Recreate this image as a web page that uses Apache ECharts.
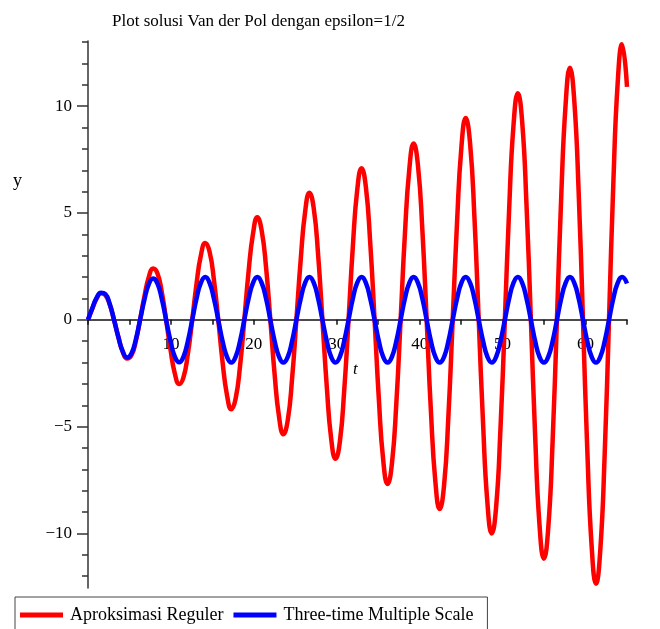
<!DOCTYPE html>
<html>
<head>
<meta charset="utf-8">
<script src="https://cdn.jsdelivr.net/npm/echarts@6/dist/echarts.min.js"></script>
<style>html,body{margin:0;padding:0;background:#fff;}#c{width:660px;height:629px;}</style>
</head>
<body>
<div id="c"></div>
<script>
const tValues = [0.00,0.52,1.05,1.57,2.09,2.62,3.14,3.67,4.19,4.71,5.24,5.76,
6.28,6.81,7.33,7.85,8.38,8.90,9.42,9.95,10.47,11.00,11.52,12.04,
12.57,13.09,13.61,14.14,14.66,15.18,15.71,16.23,16.76,17.28,17.80,18.33,
18.85,19.37,19.90,20.42,20.94,21.47,21.99,22.51,23.04,23.56,24.09,24.61,
25.13,25.66,26.18,26.70,27.23,27.75,28.27,28.80,29.32,29.85,30.37,30.89,
31.42,31.94,32.46,32.99,33.51,34.03,34.56,35.08,35.60,36.13,36.65,37.18,
37.70,38.22,38.75,39.27,39.79,40.32,40.84,41.36,41.89,42.41,42.94,43.46,
43.98,44.51,45.03,45.55,46.08,46.60,47.12,47.65,48.17,48.69,49.22,49.74,
50.27,50.79,51.31,51.84,52.36,52.88,53.41,53.93,54.45,54.98,55.50,56.03,
56.55,57.07,57.60,58.12,58.64,59.17,59.69,60.21,60.74,61.26,61.78,62.31,
62.83,63.35,63.88,64.40,65.00];

const aproksimasiReguler = [0,0.52,1.00,1.24,1.16,0.72,0,-0.82,-1.50,-1.81,-1.66,-1.01,
0,1.11,2.00,2.40,2.17,1.30,0,-1.40,-2.51,-3.00,-2.68,-1.60,
0,1.69,3.01,3.60,3.19,1.89,0,-1.98,-3.52,-4.18,-3.69,-2.18,
0,2.28,4.03,4.80,4.19,2.47,0,-2.57,-4.54,-5.35,-4.70,-2.76,
0,2.86,5.04,5.95,5.20,3.05,0,-3.15,-5.54,-6.50,-5.71,-3.35,
0,3.44,6.05,7.10,6.22,3.64,0,-3.74,-6.56,-7.68,-6.73,-3.93,
0,4.03,7.06,8.25,7.23,4.22,0,-4.32,-7.57,-8.85,-7.74,-4.52,
0,4.61,8.08,9.45,8.24,4.81,0,-4.91,-8.58,-10.00,-8.75,-5.10,
0,5.20,9.09,10.60,9.26,5.39,0,-5.49,-9.60,-11.18,-9.76,-5.68,
0,5.78,10.10,11.80,10.27,5.98,0,-6.07,-10.61,-12.35,-10.77,-6.27,
0,6.37,11.11,12.90,10.90];

const threeTimeMultipleScale = [0,0.55,1.04,1.27,1.21,0.74,0,-0.82,-1.48,-1.76,-1.57,-0.93,
0,0.95,1.67,1.94,1.69,0.98,0,-0.99,-1.72,-1.99,-1.72,-1.00,
0,1.00,1.73,2.00,1.73,1.00,0,-1.00,-1.73,-2.00,-1.73,-1.00,
0,1.00,1.73,2.00,1.73,1.00,0,-1.00,-1.73,-2.00,-1.73,-1.00,
0,1.00,1.73,2.00,1.73,1.00,0,-1.00,-1.73,-2.00,-1.73,-1.00,
0,1.00,1.73,2.00,1.73,1.00,0,-1.00,-1.73,-2.00,-1.73,-1.00,
0,1.00,1.73,2.00,1.73,1.00,0,-1.00,-1.73,-2.00,-1.73,-1.00,
0,1.00,1.73,2.00,1.73,1.00,0,-1.00,-1.73,-2.00,-1.73,-1.00,
0,1.00,1.73,2.00,1.73,1.00,0,-1.00,-1.73,-2.00,-1.73,-1.00,
0,1.00,1.73,2.00,1.73,1.00,0,-1.00,-1.73,-2.00,-1.73,-1.00,
0,1.00,1.73,2.00,1.70];

const xTickLabels = [10,20,30,40,50,60];
const yTickLabels = [-10,-5,0,5,10];
const yTicks = [-12,-11,-10,-9,-8,-7,-6,-5,-4,-3,-2,-1,0,1,2,3,4,5,6,7,8,9,10,11,12,13];

const serif = '"Liberation Serif","Times New Roman",serif';
const fmt = v => (v < 0 ? '\u2212' + Math.abs(v) : String(v));
const Y_MIN = -12.55, Y_MAX = 13.05;
const GRID_TOP = 41, GRID_BOTTOM = 41, CHART_H = 629;
// distance from the grid's bottom edge up to the y = 0 line
const zeroOffset = (CHART_H - GRID_TOP - GRID_BOTTOM) * (0 - Y_MIN) / (Y_MAX - Y_MIN);

const chart = echarts.init(document.getElementById('c'));
chart.setOption({
  animation: false,
  backgroundColor: '#fff',
  title: {
    text: 'Plot solusi Van der Pol dengan epsilon=1/2',
    left: 107, top: 8,
    textStyle: { fontFamily: serif, fontSize: 17, fontWeight: 'normal', color: '#000' }
  },
  legend: {
    left: 15, top: 597,
    padding: [9, 14, 12, 5],
    borderColor: '#444', borderWidth: 1,
    itemWidth: 43, itemHeight: 5, itemGap: 10,
    icon: 'rect',
    textStyle: { fontFamily: serif, fontSize: 18, color: '#000', padding: [0, 0, 0, 2] },
    data: ['Aproksimasi Reguler', 'Three-time Multiple Scale']
  },
  grid: { left: 88, right: 33, top: GRID_TOP, bottom: GRID_BOTTOM, containLabel: false },
  xAxis: {
    type: 'value', min: 0, max: 65, interval: 5,
    position: 'bottom', offset: -zeroOffset,
    axisLine: { onZero: false, lineStyle: { color: '#111', width: 1.5 } },
    axisTick: { show: true, length: 5, lineStyle: { color: '#111', width: 1.5 } },
    axisLabel: {
      show: true, margin: 16, fontFamily: serif, fontSize: 17, color: '#000',
      showMinLabel: true, showMaxLabel: true, hideOverlap: false,
      formatter: v => (xTickLabels.indexOf(v) >= 0 ? fmt(v) : '')
    },
    splitLine: { show: false }
  },
  yAxis: [{
    type: 'value', min: Y_MIN, max: Y_MAX,
    axisLine: { show: true, lineStyle: { color: '#333', width: 1.5 } },
    axisTick: { show: true, length: 6, customValues: yTicks, lineStyle: { color: '#333', width: 1.5 } },
    axisLabel: { customValues: yTickLabels, margin: 16, fontFamily: serif, fontSize: 17, color: '#000', formatter: fmt },
    splitLine: { show: false }
  }, {
    type: 'value', min: Y_MIN, max: Y_MAX, position: 'left',
    axisLine: { show: false },
    axisTick: { show: true, length: 11, customValues: yTickLabels, lineStyle: { color: '#333', width: 1.5 } },
    axisLabel: { show: false },
    splitLine: { show: false }
  }],
  graphic: [
    { type: 'text', left: 13, top: 172, style: { text: 'y', font: '18px ' + serif, fill: '#000' } },
    { type: 'text', left: 353, top: 361, style: { text: 't', font: 'italic 17px ' + serif, fill: '#000' } }
  ],
  series: [{
    name: 'Aproksimasi Reguler', type: 'line', smooth: true, showSymbol: false,
    color: '#ff0000', lineStyle: { width: 4.5, color: '#ff0000' },
    data: tValues.map((t, i) => [t, aproksimasiReguler[i]])
  }, {
    name: 'Three-time Multiple Scale', type: 'line', smooth: true, showSymbol: false,
    color: '#0000ff', lineStyle: { width: 4.5, color: '#0000ff' },
    data: tValues.map((t, i) => [t, threeTimeMultipleScale[i]])
  }]
});
</script>
</body>
</html>
